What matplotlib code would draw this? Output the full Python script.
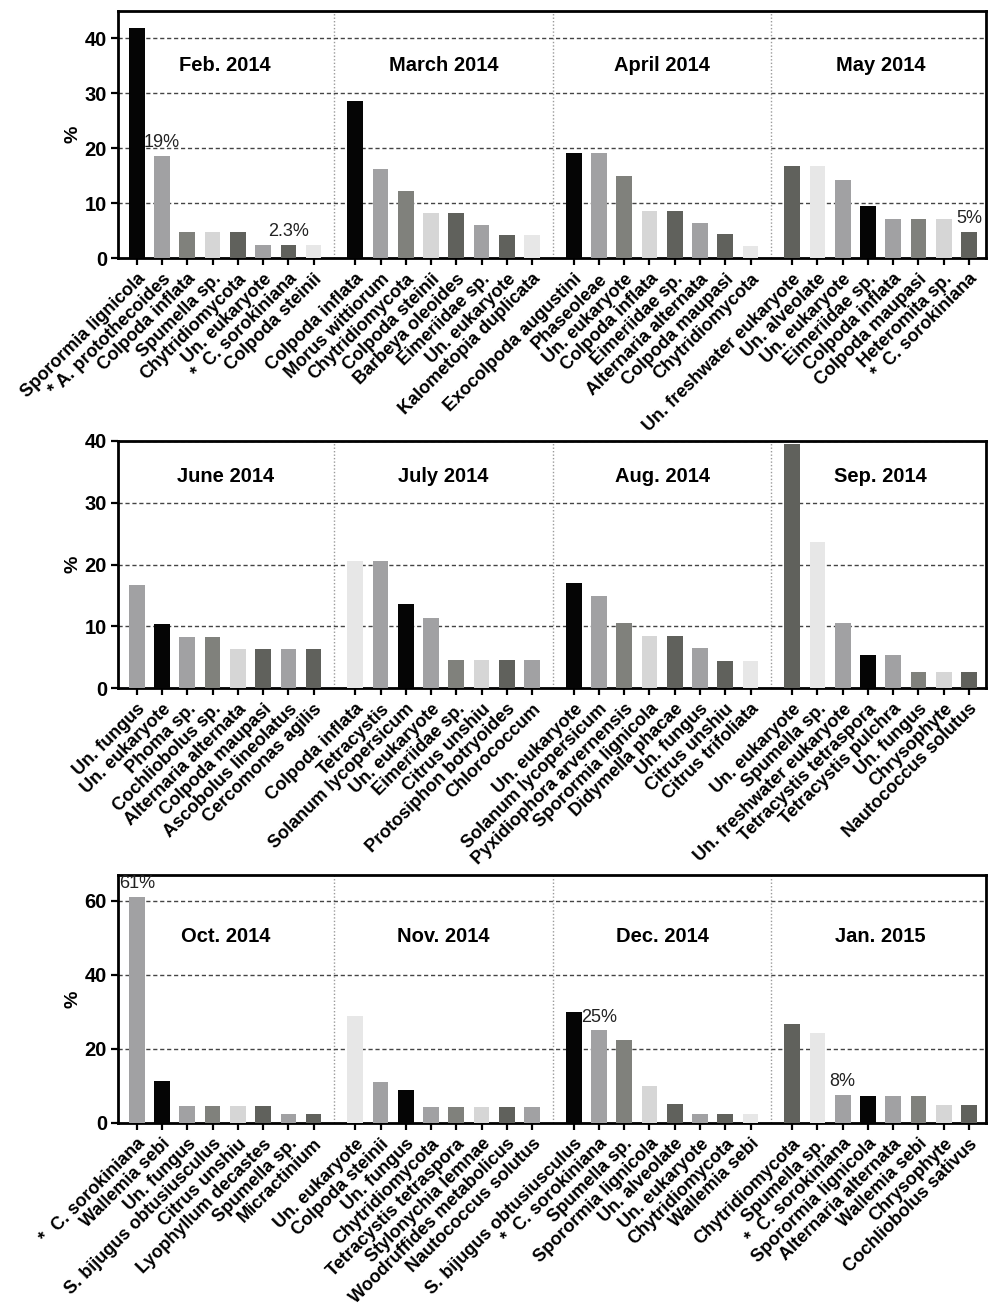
import matplotlib
matplotlib.use("Agg")
import matplotlib.pyplot as plt

plt.rcParams['font.family'] = ['Liberation Sans', 'DejaVu Sans']

# ---- data: relative abundance (%) of the top taxa per month ----
months = ["Feb. 2014", "March 2014", "April 2014", "May 2014",
          "June 2014", "July 2014", "Aug. 2014", "Sep. 2014",
          "Oct. 2014", "Nov. 2014", "Dec. 2014", "Jan. 2015"]

taxa_feb = ["Sporormia lignicola", "* A. protothecoides", "Colpoda inflata", "Spumella sp.",
            "Chytridiomycota", "Un. eukaryote", "*  C. sorokiniana", "Colpoda steinii"]
pct_feb = [41.9, 18.6, 4.7, 4.7, 4.7, 2.3, 2.3, 2.3]
shade_feb = "kmgldmdv"

taxa_mar = ["Colpoda inflata", "Morus wittiorum", "Chytridiomycota", "Colpoda steinii",
            "Barbeya oleoides", "Eimeriidae sp.", "Un. eukaryote", "Kalometopia duplicata"]
pct_mar = [28.6, 16.3, 12.2, 8.2, 8.2, 6.1, 4.1, 4.1]
shade_mar = "kmgldmdv"

taxa_apr = ["Exocolpoda augustini", "Phaseoleae", "Un. eukaryote", "Colpoda inflata",
            "Eimeriidae sp.", "Alternaria alternata", "Colpoda maupasi", "Chytridiomycota"]
pct_apr = [19.1, 19.1, 14.9, 8.5, 8.5, 6.4, 4.3, 2.1]
shade_apr = "kmgldmdv"

taxa_may = ["Un. freshwater eukaryote", "Un. alveolate", "Un. eukaryote", "Eimeriidae sp.",
            "Colpoda inflata", "Colpoda maupasi", "Heteromita sp.", "*  C. sorokiniana"]
pct_may = [16.7, 16.7, 14.3, 9.5, 7.1, 7.1, 7.1, 4.8]
shade_may = "dvmkmgld"

taxa_jun = ["Un. fungus", "Un. eukaryote", "Phoma sp.", "Cochliobolus sp.",
            "Alternaria alternata", "Colpoda maupasi", "Ascobolus lineolatus", "Cercomonas agilis"]
pct_jun = [16.7, 10.4, 8.3, 8.3, 6.25, 6.25, 6.25, 6.25]
shade_jun = "mkmgldmd"

taxa_jul = ["Colpoda inflata", "Tetracystis", "Solanum lycopersicum", "Un. eukaryote",
            "Eimeriidae sp.", "Citrus unshiu", "Protosiphon botryoides", "Chlorococcum"]
pct_jul = [20.5, 20.5, 13.6, 11.4, 4.5, 4.5, 4.5, 4.5]
shade_jul = "vmkmgldm"

taxa_aug = ["Un. eukaryote", "Solanum lycopersicum", "Pyxidiophora arvernensis", "Sporormia lignicola",
            "Didymella phacae", "Un. fungus", "Citrus unshiu", "Citrus trifoliata"]
pct_aug = [17.0, 14.9, 10.6, 8.5, 8.5, 6.4, 4.3, 4.3]
shade_aug = "kmgldmdv"

taxa_sep = ["Un. eukaryote", "Spumella sp.", "Un. freshwater eukaryote", "Tetracystis tetraspora",
            "Tetracystis pulchra", "Un. fungus", "Chrysophyte", "Nautococcus solutus"]
pct_sep = [39.5, 23.7, 10.5, 5.3, 5.3, 2.6, 2.6, 2.6]
shade_sep = "dvmkmgld"

taxa_oct = ["*  C. sorokiniana", "Wallemia sebi", "Un. fungus", "S. bijugus obtusiusculus",
            "Citrus unshiu", "Lyophyllum decastes", "Spumella sp.", "Micractinium"]
pct_oct = [61.0, 11.4, 4.5, 4.5, 4.5, 4.5, 2.3, 2.3]
shade_oct = "mkmgldmd"

taxa_nov = ["Un. eukaryote", "Colpoda steinii", "Un. fungus", "Chytridiomycota",
            "Tetracystis tetraspora", "Stylonychia lemnae", "Woodruffides metabolicus", "Nautococcus solutus"]
pct_nov = [28.9, 11.1, 8.9, 4.4, 4.4, 4.4, 4.4, 4.4]
shade_nov = "vmkmgldm"

taxa_dec = ["S. bijugus obtusiusculus", "*  C. sorokiniana", "Spumella sp.", "Sporormia lignicola",
            "Un. alveolate", "Un. eukaryote", "Chytridiomycota", "Wallemia sebi"]
pct_dec = [30.0, 25.0, 22.5, 10.0, 5.0, 2.5, 2.5, 2.5]
shade_dec = "kmgldmdv"

taxa_jan = ["Chytridiomycota", "Spumella sp.", "*  C. sorokiniana", "Sporormia lignicola",
            "Alternaria alternata", "Wallemia sebi", "Chrysophyte", "Cochliobolus sativus"]
pct_jan = [26.8, 24.4, 7.6, 7.3, 7.3, 7.3, 4.9, 4.9]
shade_jan = "dvmkmgld"

# value labels: (month, bar index, decimals)
value_labels = [("Feb. 2014", 1, 0), ("Feb. 2014", 6, 1), ("May 2014", 7, 0),
                ("Oct. 2014", 0, 0), ("Dec. 2014", 1, 0), ("Jan. 2015", 2, 0)]

taxa = [taxa_feb, taxa_mar, taxa_apr, taxa_may, taxa_jun, taxa_jul,
        taxa_aug, taxa_sep, taxa_oct, taxa_nov, taxa_dec, taxa_jan]
pct = [pct_feb, pct_mar, pct_apr, pct_may, pct_jun, pct_jul,
       pct_aug, pct_sep, pct_oct, pct_nov, pct_dec, pct_jan]
shades = [shade_feb, shade_mar, shade_apr, shade_may, shade_jun, shade_jul,
          shade_aug, shade_sep, shade_oct, shade_nov, shade_dec, shade_jan]

# ---- styling ----
PALETTE = {'k': '#050505', 'm': '#a1a1a3', 'g': '#80817c',
           'l': '#d6d6d6', 'd': '#60615c', 'v': '#e7e7e7'}
GROUP_W = 8.65
OFFSET = 0.825
BAR_W = 0.62

# (ymax, tick step, title height in data units, axes top px, axes bottom px)
panels = [(45, 10, 35.1, 11, 258),
          (40, 10, 34.2, 441, 688),
          (67, 20, 50.5, 875, 1123)]

W_PX, H_PX = 990, 1309
fig = plt.figure(figsize=(W_PX / 100, H_PX / 100), dpi=100)

for p, (ymax, step, title_y, top_px, bot_px) in enumerate(panels):
    ax = fig.add_axes([118 / W_PX, 1 - bot_px / H_PX,
                       (986 - 118) / W_PX, (bot_px - top_px) / H_PX])
    xt, xl = [], []
    for g in range(4):
        m = p * 4 + g
        xs = [g * GROUP_W + OFFSET + i for i in range(len(pct[m]))]
        ax.bar(xs, pct[m], width=BAR_W, color=[PALETTE[c] for c in shades[m]],
               zorder=3, linewidth=0)
        xt += xs
        xl += taxa[m]
        ax.text(g * GROUP_W + GROUP_W / 2, title_y, months[m], ha='center', va='center',
                fontsize=14.5, fontweight='bold')
        if g > 0:
            ax.axvline(g * GROUP_W, color='#9a9a9a', lw=1.0, ls=(0, (1, 1.5)), zorder=1)
        for (mon, idx, dec) in value_labels:
            if mon == months[m]:
                v = pct[m][idx]
                ax.text(xs[idx], v + 0.02 * ymax, f"{v:.{dec}f}%", ha='center', va='bottom',
                        fontsize=13, color='#222222', zorder=4)

    ax.set_xlim(0.08, 34.45)
    ax.set_ylim(0, ymax)
    ticks = list(range(0, ymax + 1, step))
    ax.set_yticks(ticks)
    ax.set_yticklabels([str(t) for t in ticks], fontsize=14.5, fontweight='bold')
    for t in ticks[1:]:
        ax.axhline(t, color='#444444', lw=1.0, ls=(0, (3, 2)), zorder=1)
    ax.set_xticks(xt)
    ax.set_xticklabels(xl, rotation=45, ha='right', va='top', rotation_mode='anchor',
                       fontsize=13, fontweight='bold')
    ax.tick_params(axis='both', direction='out', length=5, width=1.6, color='black', pad=3)
    ax.tick_params(axis='x', pad=4)
    for s in ax.spines.values():
        s.set_linewidth(2.0)
        s.set_color('black')
    ax.set_ylabel('%', fontsize=14, fontweight='bold')
    ax.yaxis.set_label_coords(-0.042, 0.5)

fig.savefig("out.png", dpi=100)
